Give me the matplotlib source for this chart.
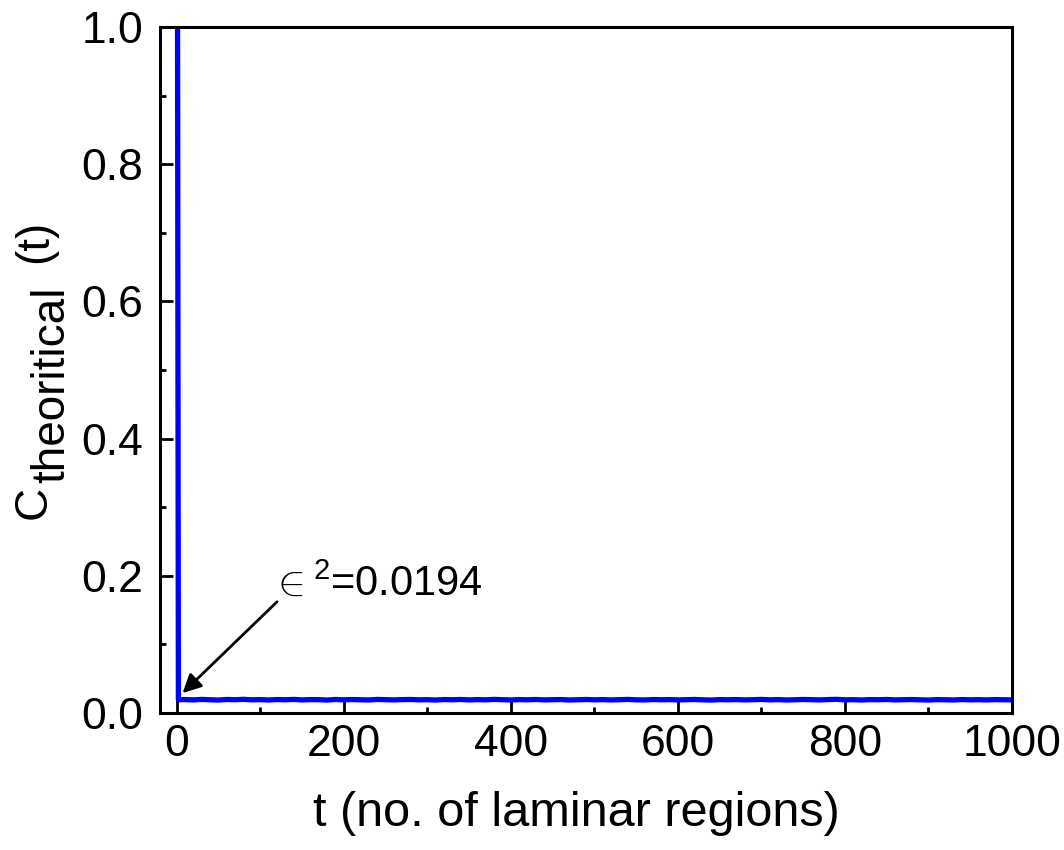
import numpy as np
import matplotlib.pyplot as plt
from matplotlib.ticker import MultipleLocator

plt.rcParams['font.family'] = ['Liberation Sans', 'DejaVu Sans']
plt.rcParams['mathtext.fontset'] = 'custom'
plt.rcParams['mathtext.rm'] = 'Liberation Sans'
plt.rcParams['mathtext.it'] = 'Liberation Sans'

# C(t) sampled at the laminar region index t
t_head = [1, 2]
c_head = [1.0, 0.0194]

# plateau values, one every 10 regions from t = 10 to t = 1000
c_plateau = [
    0.0196, 0.0191, 0.0198, 0.0193, 0.0189, 0.0197, 0.0194, 0.0199, 0.0192, 0.0195,
    0.0190, 0.0196, 0.0193, 0.0198, 0.0191, 0.0195, 0.0194, 0.0189, 0.0197, 0.0192,
    0.0196, 0.0193, 0.0190, 0.0198, 0.0194, 0.0191, 0.0195, 0.0197, 0.0192, 0.0194,
    0.0189, 0.0196, 0.0193, 0.0197, 0.0191, 0.0195, 0.0192, 0.0198, 0.0194, 0.0190,
    0.0195, 0.0193, 0.0197, 0.0191, 0.0194, 0.0196, 0.0190, 0.0193, 0.0197, 0.0192,
    0.0195, 0.0191, 0.0194, 0.0198, 0.0192, 0.0190, 0.0196, 0.0193, 0.0195, 0.0191,
    0.0194, 0.0197, 0.0192, 0.0189, 0.0195, 0.0193, 0.0196, 0.0191, 0.0194, 0.0198,
    0.0192, 0.0195, 0.0190, 0.0193, 0.0197, 0.0194, 0.0191, 0.0196, 0.0199, 0.0192,
    0.0194, 0.0190, 0.0195, 0.0193, 0.0197, 0.0191, 0.0194, 0.0196, 0.0192, 0.0189,
    0.0195, 0.0193, 0.0190, 0.0196, 0.0192, 0.0194, 0.0191, 0.0195, 0.0193, 0.0192,
]
t_plateau = list(range(10, 1001, 10))

t = np.array(t_head + t_plateau)
c = np.array(c_head + c_plateau)

eps2 = 0.0194

W, H = 1064, 850
fig = plt.figure(figsize=(W / 100, H / 100), dpi=100)
ax = fig.add_axes([160 / W, 1 - 713 / H, 852 / W, 686 / H])

ax.plot(t, c, color='#0000ff', lw=3.8)

# arrow pointing at the plateau, label written separately
ax.annotate('', xy=(7, 0.029), xytext=(120, 0.162),
            arrowprops=dict(arrowstyle='-|>', color='black', lw=2,
                            mutation_scale=28, shrinkA=0, shrinkB=0))
ax.text(113, 0.172, r'$\in^{2}$=0.0194', fontsize=30, ha='left', va='baseline')

ax.set_xlim(-20, 1000)
ax.set_ylim(0, 1.0)
ax.xaxis.set_major_locator(MultipleLocator(200))
ax.xaxis.set_minor_locator(MultipleLocator(100))
ax.yaxis.set_major_locator(MultipleLocator(0.2))
ax.yaxis.set_minor_locator(MultipleLocator(0.1))
ax.tick_params(which='both', direction='in', width=2, labelsize=32)
ax.tick_params(which='major', length=9.5)
ax.tick_params(which='minor', length=4.5)
ax.tick_params(axis='x', pad=8)
ax.tick_params(axis='y', pad=12)
for s in ax.spines.values():
    s.set_linewidth(2.2)

# axis titles
fig.text(576 / W, 1 - 826 / H, 't (no. of laminar regions)', fontsize=35,
         ha='center', va='baseline')

ylab = dict(fontsize=33, rotation=90, rotation_mode='anchor',
            ha='left', va='baseline')
fig.text(46 / W, 1 - 519 / H, 'C', **ylab)
fig.text(64 / W, 1 - 483 / H, 'theoritical', **ylab)
fig.text(47 / W, 1 - 263 / H, '(t)', **ylab)

fig.savefig('out.png', dpi=100)
